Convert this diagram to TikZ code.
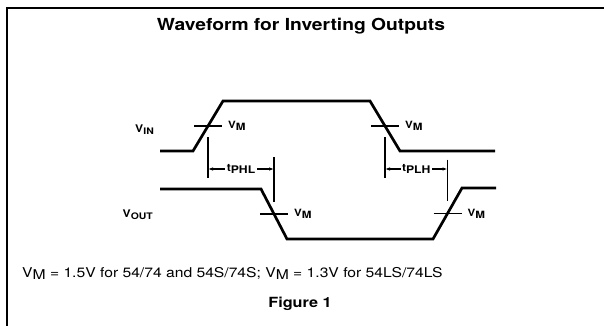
\documentclass[tikz,border=0pt]{standalone}
\usepackage{fontspec}
\setmainfont{TeX Gyre Heros}[FakeStretch=1.16]
\usetikzlibrary{arrows.meta,positioning,calc}

\newcommand{\lowsub}[1]{\raisebox{-2pt}{#1}}

\begin{document}
\begin{tikzpicture}[x=1pt, y=-1pt,
  wave/.style={line width=2.7pt, line join=miter},
  tickline/.style={line width=1.3pt},
  vline/.style={line width=1.2pt},
  lbl/.style={font=\bfseries\fontsize{10}{11}\selectfont, inner sep=1pt, anchor=west},
  sig/.style={font=\bfseries\fontsize{10.5}{12}\selectfont, inner sep=1pt},
  dim/.style={{Latex[length=5pt,width=3.5pt]}-{Latex[length=5pt,width=3.5pt]}, line width=1.1pt},
  dimlbl/.style={font=\bfseries\fontsize{10.5}{11}\selectfont, fill=white, inner sep=1.5pt},
]
\useasboundingbox (0,0) rectangle (604,326);

% frame, open to the right and bottom
\draw[line width=1.6pt] (604,8) -- (7,8) -- (7,326);

\node[font=\bfseries\fontsize{16.6}{18}\selectfont] (title) at (301,26)
  {Waveform for Inverting Outputs};

% input waveform
\coordinate (in0) at (160,151);
\coordinate (in1) at (193,151);
\coordinate (in2) at (223,101);
\coordinate (in3) at (370,101);
\coordinate (in4) at (400,151);
\coordinate (in5) at (495,151);
\draw[wave] (in0) -- (in1) -- (in2) -- (in3) -- (in4) -- (in5);

% output waveform
\coordinate (out0) at (160,189);
\coordinate (out1) at (261,189);
\coordinate (out2) at (287,239);
\coordinate (out3) at (433,239);
\coordinate (out4) at (462,188);
\coordinate (out5) at (496,188);
\draw[wave] (out0) -- (out1) -- (out2) -- (out3) -- (out4) -- (out5);

\node[sig, anchor=east] (vin) at (155,130) {V\lowsub{\fontsize{9}{10}\selectfont IN}};
\node[sig, anchor=east] (vout) at (154,215) {V\lowsub{\fontsize{9}{10}\selectfont OUT}};

% V_M crossings
\coordinate (x1) at ($(in1)!0.5!(in2)$);
\coordinate (x2) at ($(in3)!0.5!(in4)$);
\coordinate (x3) at ($(out1)!0.5!(out2)$);
\coordinate (x4) at ($(out3)!0.5!(out4)$);
\foreach \c in {x1,x2,x3,x4} {
  \draw[tickline] ($(\c)+(-14,0)$) -- ($(\c)+(14,0)$) coordinate (\c r);
  \node[lbl] at ($(\c r)+(5,0)$) {V\lowsub{M}};
}

% delay markers
\coordinate (a1) at ($(x1)+(0,11)$);
\coordinate (a2) at ($(x1)+(0,52)$);
\coordinate (b1) at ($(x3)+(0,-57)$);
\coordinate (b2) at ($(x3)+(0,-12)$);
\coordinate (c1) at ($(x2)+(0,11)$);
\coordinate (c2) at ($(x2)+(0,52)$);
\coordinate (d1) at ($(x4)+(0,-54)$);
\coordinate (d2) at ($(x4)+(0,-13)$);
\draw[vline] (a1) -- (a2);
\draw[vline] (b1) -- (b2);
\draw[vline] (c1) -- (c2);
\draw[vline] (d1) -- (d2);

\draw[dim] (a1 |- 0,169) -- node[dimlbl] (tphl) {t\lowsub{PHL}} (b1 |- 0,169);
\draw[dim] (c1 |- 0,169) -- node[dimlbl] (tplh) {t\lowsub{PLH}} (d1 |- 0,169);

\node[anchor=west, font=\fontsize{13.5}{15}\selectfont, inner sep=0pt] (note) at (22,273)
  {V\lowsub{M} = 1.5V for 54/74 and 54S/74S; V\lowsub{M} = 1.3V for 54LS/74LS};

\node[font=\bfseries\fontsize{14}{16}\selectfont] (fig) at (300,304) {Figure 1};

\end{tikzpicture}
\end{document}
